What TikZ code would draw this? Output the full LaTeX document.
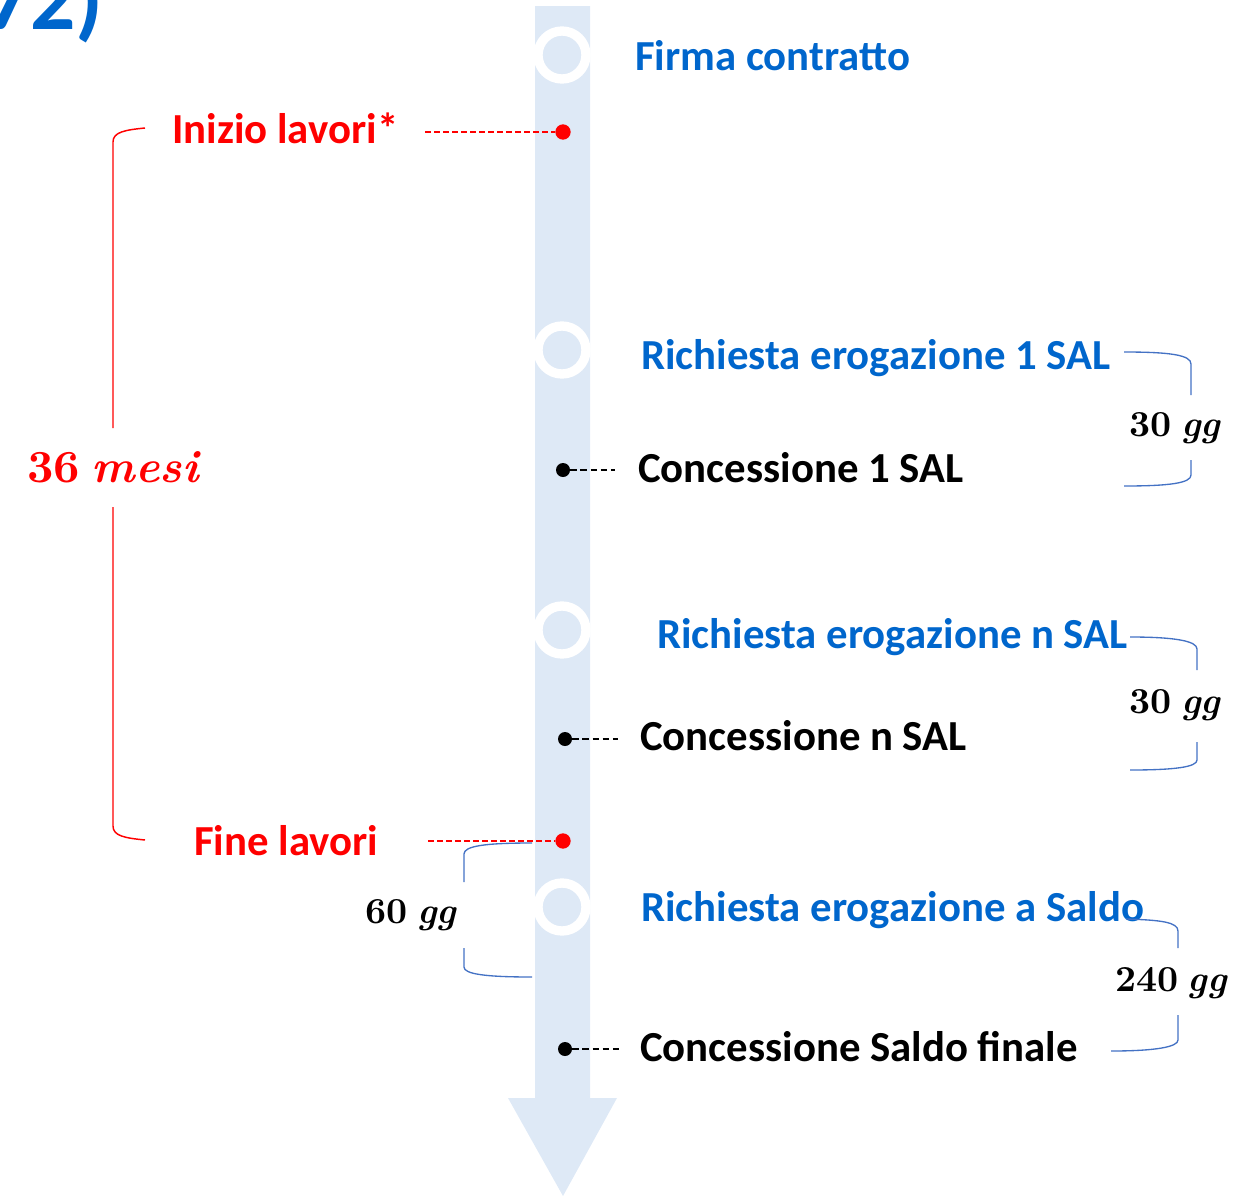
\documentclass[tikz,border=0pt]{standalone}
\usepackage{fontspec}
\setmainfont{Carlito}
\newfontfamily\ggfont{lmroman10-regular.otf}[BoldFont=lmroman10-bold.otf, ItalicFont=lmroman10-italic.otf, BoldItalicFont=lmroman10-bolditalic.otf]
\usetikzlibrary{positioning}

\definecolor{timeline}{RGB}{222,233,246}
\definecolor{stepblue}{RGB}{0,102,204}
\definecolor{bracketblue}{RGB}{68,114,196}

\newcommand{\ggval}[2]{{\ggfont\bfseries #1\hspace{0.25em}\itshape #2}}

\tikzset{
  evblue/.style={anchor=base west, inner sep=0pt, text=stepblue, font=\fontsize{32.1}{36}\selectfont\bfseries},
  evblack/.style={evblue, text=black},
  evred/.style={evblue, text=red},
  ggtext/.style={inner sep=0pt, font=\fontsize{27.5}{32}\selectfont},
  ring/.style={circle, draw=white, line width=7pt, inner sep=0pt, minimum size=36pt},
  reddot/.style={circle, fill=red, inner sep=0pt, minimum size=11.5pt},
  blackdot/.style={circle, fill=black, inner sep=0pt, minimum size=10.5pt},
  redlead/.style={draw=red, line width=1.4pt, dash pattern=on 4.5pt off 2.25pt},
  blacklead/.style={draw=black, line width=1.3pt, dash pattern=on 5pt off 2.6pt},
  brk/.style={draw=bracketblue, line width=1pt},
  redbrk/.style={draw=red, line width=1.1pt}
}

\begin{document}
\begin{tikzpicture}[x=0.75pt,y=0.75pt,yscale=-1,xscale=1]
        \clip (0,0) rectangle (1239,1196);

        %Shape: Down Arrow
        \fill [timeline] (535,6) -- (590,6) -- (590,1098) -- (617,1098) -- (563,1196) -- (508,1098) -- (535,1098) -- cycle ;

        % Title fragment
        \node [anchor=base east, inner sep=0pt, text=stepblue, font=\fontsize{67}{70}\selectfont\bfseries] (title) at (104,29) {72)};

        %Shape: Rings
        \node [ring] (r1) at (562,55) {};
        \node [ring] (r2) at (562,350) {};
        \node [ring] (r3) at (562,630) {};
        \node [ring] (r4) at (562,907) {};

        %Shape: Dots
        \node [reddot] (dstart) at (563,132) {};
        \node [blackdot] (d1) at (563,470) {};
        \node [blackdot] (dn) at (565,739) {};
        \node [reddot] (dend) at (563,841) {};
        \node [blackdot] (ds) at (565,1049) {};

        % Text Node
        \node [evblue] (firma) at (635,70) {Firma contratto};
        % Text Node
        \node [evred] (inizio) at (172,143) {Inizio lavori*};
        % Text Node
        \node [evblue] (rich1) at (641,369) {Richiesta erogazione 1 SAL};
        % Text Node
        \node [evblack] (conc1) at (638,482) {Concessione 1 SAL};
        % Text Node
        \node [evblue] (richn) at (657,648) {Richiesta erogazione n SAL};
        % Text Node
        \node [evblack] (concn) at (640,750) {Concessione n SAL};
        % Text Node
        \node [evred] (fine) at (194,855) {Fine lavori};
        % Text Node
        \node [evblue] (richs) at (641,921) {Richiesta erogazione a Saldo};
        % Text Node
        \node [evblack] (concs) at (640,1061) {Concessione Saldo finale};

        % Math Text
        \node [ggtext] (gg1) at (1175,428) {\ggval{30}{gg}};
        \node [ggtext] (ggn) at (1175,705) {\ggval{30}{gg}};
        \node [ggtext] (ggs) at (1171,983) {\ggval{240}{gg}};
        \node [ggtext] (gg60) at (411,915) {\ggval{60}{gg}};
        \node [ggtext, text=red, font=\fontsize{34.5}{40}\selectfont] (mesi) at (113,467) {\ggval{36}{mesi}};

        %Straight Lines: leaders
        \coordinate (lstart) at (425,132);
        \coordinate (lend) at (428,841);
        \coordinate (l1) at (615,470);
        \coordinate (ln) at (618,739);
        \coordinate (ls) at (620,1049);
        \draw [redlead] (lstart) -- (dstart);
        \draw [redlead] (lend) -- (dend);
        \draw [blacklead] (d1) -- (l1);
        \draw [blacklead] (dn) -- (ln);
        \draw [blacklead] (ds) -- (ls);

        %Shape: Red Bracket
        \draw [redbrk] (145,128) .. controls (125,130) and (113,132) .. (113,142) -- (113,428) ;
        \draw [redbrk] (113,507) -- (113,826) .. controls (113,836) and (125,838) .. (145,840) ;

        %Shape: Blue Brackets
        \draw [brk] (1124,352) .. controls (1170,352) and (1191,355) .. (1191,364) -- (1191,395) ;
        \draw [brk] (1191,460) -- (1191,475) .. controls (1191,483) and (1170,486) .. (1124,486) ;
        \draw [brk] (1130,637) .. controls (1175,637) and (1197,641) .. (1197,649) -- (1197,670) ;
        \draw [brk] (1197,742) -- (1197,760) .. controls (1197,767) and (1175,770) .. (1130,770) ;
        \draw [brk] (1126,919) .. controls (1160,920) and (1178,922) .. (1178,931) -- (1178,948) ;
        \draw [brk] (1178,1015) -- (1178,1040) .. controls (1178,1047) and (1155,1051) .. (1111,1051) ;
        \draw [brk] (532,843) .. controls (485,843) and (464,846) .. (464,854) -- (464,882) ;
        \draw [brk] (464,948) -- (464,967) .. controls (464,974) and (485,977) .. (532,977) ;

    \end{tikzpicture}
\end{document}
